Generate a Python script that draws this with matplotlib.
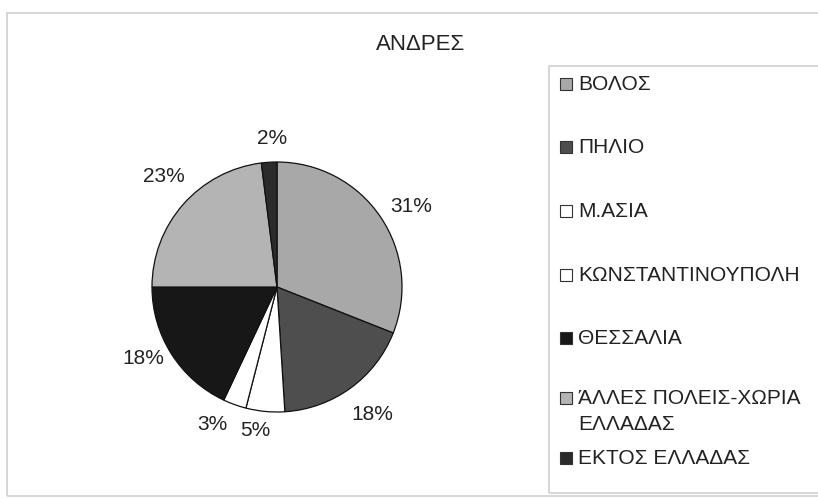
import matplotlib.pyplot as plt
from matplotlib.patches import Rectangle

plt.rcParams['font.family'] = ['Liberation Sans', 'DejaVu Sans']

title = 'ΑΝΔΡΕΣ'
categories = ['ΒΟΛΟΣ', 'ΠΗΛΙΟ', 'Μ.ΑΣΙΑ', 'ΚΩΝΣΤΑΝΤΙΝΟΥΠΟΛΗ', 'ΘΕΣΣΑΛΙΑ',
              'ΆΛΛΕΣ ΠΟΛΕΙΣ-ΧΩΡΙΑ\nΕΛΛΑΔΑΣ', 'ΕΚΤΟΣ ΕΛΛΑΔΑΣ']
shares = [31, 18, 5, 3, 18, 23, 2]
colors = ['#a8a8a8', '#4e4e4e', '#ffffff', '#ffffff', '#171717', '#b4b4b4', '#2b2b2b']

W, H = 818, 499
txt_color = '#222222'

fig = plt.figure(figsize=(W / 100, H / 100), dpi=100)
fig.patch.set_facecolor('white')

def px(x, y):
    # pixel (from top-left) -> figure fraction
    return x / W, 1 - y / H

# outer chart frame and legend frame
fig.patches.append(Rectangle(px(7, 496), 830 / W, 483 / H, transform=fig.transFigure,
                             fill=False, edgecolor='#cfcfcf', linewidth=1.2))
fig.patches.append(Rectangle(px(549, 493), 290 / W, 427 / H, transform=fig.transFigure,
                             fill=False, edgecolor='#d0d0d0', linewidth=1.2))

# pie axes: centre (277, 287) px, radius 125 px
half = 1.5 * 125
ax = fig.add_axes([(277 - half) / W, (H - 287 - half) / H, 2 * half / W, 2 * half / H])
wedges, texts, autotexts = ax.pie(shares, colors=colors, startangle=90, counterclock=False,
                                  autopct='%1.0f%%', pctdistance=1.23,
                                  wedgeprops=dict(edgecolor='#111111', linewidth=0.9),
                                  textprops=dict(fontsize=15, color=txt_color))
# label placement as in the original (Excel does not put them strictly radial)
label_pos = [(1.07, 0.645), (0.76, -1.016), (-0.176, -1.144), (-0.52, -1.096),
             (-1.072, -0.568), (-0.904, 0.88), (-0.04, 1.184)]
for t, pos in zip(autotexts, label_pos):
    t.set_position(pos)
ax.set_xlim(-1.5, 1.5)
ax.set_ylim(-1.5, 1.5)
ax.set_aspect('equal')
ax.axis('off')

fig.text(*px(421, 44), title, ha='center', va='center', fontsize=16, color=txt_color)

# legend drawn by hand to follow the original spacing
legend_y = [84, 147, 211, 275, 338, 398, 458]
for lab, col, y in zip(categories, colors, legend_y):
    fig.patches.append(Rectangle(px(560, y + 6), 12 / W, 12 / H, transform=fig.transFigure,
                                 facecolor=col, edgecolor='#333333', linewidth=0.8))
    fig.text(*px(578, y - 9), lab, ha='left', va='top', fontsize=15,
             color=txt_color, linespacing=1.45)

fig.savefig('out.png', dpi=100, facecolor='white')
